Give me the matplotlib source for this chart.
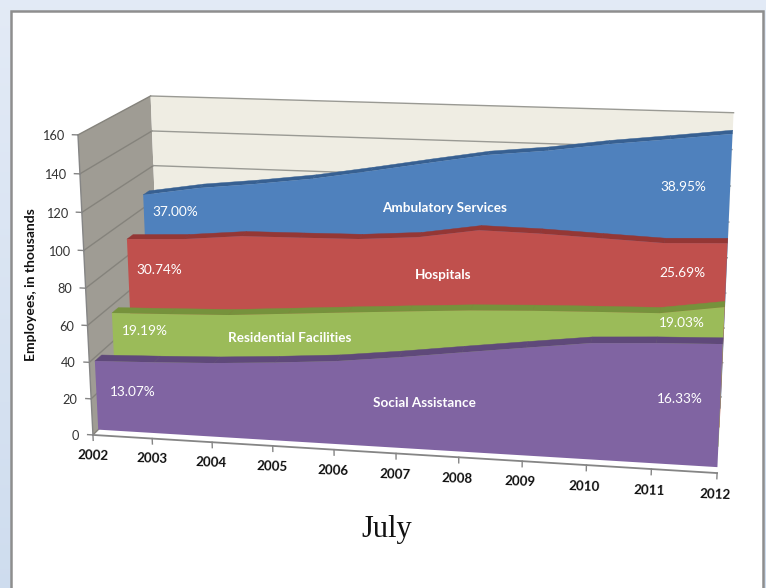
import numpy as np
import matplotlib
matplotlib.use("Agg")
import matplotlib.pyplot as plt
from mpl_toolkits.mplot3d import proj3d
from mpl_toolkits.mplot3d.art3d import Poly3DCollection

W, H = 766, 588

years = np.arange(2002, 2013)
social = [38.1, 39.2, 40.5, 42.6, 45.1, 48.9, 53.2, 57.4, 61.5, 63.2, 64.4]
residential = [55.8, 56.8, 57.9, 60.2, 62.5, 64.7, 66.8, 68.2, 69.2, 70.1, 74.9]
hospitals = [89.4, 90.8, 93.8, 94.3, 94.9, 97.3, 102.4, 101.9, 100.7, 99.5, 100.8]
ambulatory = [107.4, 112.5, 116.0, 120.1, 125.5, 131.2, 136.7, 140.1, 144.7, 148.4, 152.3]
yticks = np.arange(0, 161, 20)

# depth slot and colours of each area, back to front
layers = [
    (ambulatory, 0.83, "#4F81BD", "#376092"),
    (hospitals, 0.57, "#C0504D", "#943735"),
    (residential, 0.32, "#9BBB59", "#76923C"),
    (social, 0.07, "#8064A2", "#5F497A"),
]
thick = 0.09

plt.rcParams["font.family"] = ["Lato", "DejaVu Sans"]

fig = plt.figure(figsize=(W / 100, H / 100), dpi=100)


def fx(x):
    return x / W


def fy(y):
    return 1 - y / H


# pale blue page with the white panel on top of it
bg = fig.add_axes([0, 0, 1, 1], zorder=-1)
bg.set_xlim(0, W)
bg.set_ylim(H, 0)
bg.axis("off")
grad = np.linspace(0, 1, 256)[:, None]
page0 = np.array([0.89, 0.92, 0.965])
page1 = np.array([0.81, 0.865, 0.935])
bg.imshow((page0 + (page1 - page0) * grad[..., None]), extent=[0, W, H, 0], aspect="auto")
bg.add_patch(plt.Rectangle((10.5, 10.5), 752.5, H, fc="white", ec="#8E8E8E", lw=1.8))

ax = fig.add_axes([58.07 / W, -42.29 / H, 696.7 / W, 696.7 / H], projection="3d", computed_zorder=False)
ax.patch.set_visible(False)
ax.set_xlim(years[0], years[-1], view_margin=0)
ax.set_ylim(0, 1, view_margin=0)
ax.set_zlim(0, 160, view_margin=0)
ax.view_init(15.0823, -79.9579, 0.1019)
ax.set_proj_type("persp", focal_length=0.4926)
ax.set_box_aspect((1, 0.3639, 0.4940))
ax.set_axis_off()

x0, x1 = years[0], years[-1]
zmax = yticks[-1]


def label3d(x, y, z, s, **kw):
    # place a flat label at the projected position of a 3d point
    px, py, _ = proj3d.proj_transform(x, y, z, ax.get_proj())
    ax.text2D(px, py, s, transform=ax.transData, **kw)


# walls and floor
ax.add_collection3d(Poly3DCollection([[(x0, 0, 0), (x0, 1, 0), (x0, 1, zmax), (x0, 0, zmax)]],
                                     facecolor="#9F9C94", edgecolor="none", zorder=1))
ax.add_collection3d(Poly3DCollection([[(x0, 1, 0), (x1, 1, 0), (x1, 1, zmax), (x0, 1, zmax)]],
                                     facecolor="#EFEDE3", edgecolor="none", zorder=1))
ax.add_collection3d(Poly3DCollection([[(x0, 0, 0), (x1, 0, 0), (x1, 1, 0), (x0, 1, 0)]],
                                     facecolor="white", edgecolor="none", zorder=1))

# gridlines on both walls
for v in yticks:
    ax.plot([x0, x0], [0, 1], [v, v], color="#85837C", lw=1, zorder=2)
    ax.plot([x0, x1], [1, 1], [v, v], color="#9A9A94", lw=1, zorder=2)

# areas with the darker top strip
for vals, depth, face, top in layers:
    vals = np.array(vals)
    strip = []
    for i in range(len(years) - 1):
        strip.append([(years[i], depth, vals[i]), (years[i + 1], depth, vals[i + 1]),
                      (years[i + 1], depth + thick, vals[i + 1]), (years[i], depth + thick, vals[i])])
    ax.add_collection3d(Poly3DCollection(strip, facecolor=top, edgecolor=top, linewidth=0.3, zorder=3))
    front = [(y, depth, v) for y, v in zip(years, vals)] + [(x1, depth, 0), (x0, depth, 0)]
    ax.add_collection3d(Poly3DCollection([front], facecolor=face, edgecolor="none", zorder=3))

# axis lines and ticks
axis_col = "#858585"
ax.plot([x0, x0], [0, 0], [0, zmax], color=axis_col, lw=1, zorder=4)
ax.plot([x0, x1], [0, 0], [0, 0], color=axis_col, lw=1.3, zorder=4)
for v in yticks:
    ax.plot([x0 - 0.09, x0], [0, 0], [v, v], color=axis_col, lw=1, zorder=4)
    label3d(x0 - 0.23, 0, v - 1, str(v), ha="right", va="center", fontsize=9.2, color="#333333", zorder=5)
for y in years:
    ax.plot([y, y], [0, 0], [0, -3], color=axis_col, lw=1, zorder=4)
    label3d(y - 0.02, 0, -11.3, str(y), ha="center", va="center", fontsize=9.6, fontweight="bold",
            rotation=-2, color="#111111", zorder=5)

# labels written on the areas
pct_labels = [("37.00%", 175, 212), ("38.95%", 683, 187), ("30.74%", 159, 270), ("25.69%", 682, 273),
              ("19.19%", 145, 331), ("19.03%", 682, 323), ("13.07%", 133, 392), ("16.33%", 680, 399)]
name_labels = [("Ambulatory Services", 445, 208), ("Hospitals", 443, 275),
               ("Residential Facilities", 290, 338), ("Social Assistance", 424, 403)]
for txt, a, b in pct_labels:
    fig.text(fx(a), fy(b), txt, color="white", fontsize=9.8, ha="center", va="center")
for txt, a, b in name_labels:
    fig.text(fx(a), fy(b), txt, color="white", fontsize=9.7, fontweight="bold", ha="center", va="center")

fig.text(fx(31), fy(285), "Employees, in thousands", rotation=90, fontsize=10, fontweight="bold",
         color="#111111", ha="center", va="center")
fig.text(fx(387), fy(530), "July", fontsize=22, family=["Liberation Serif"], color="#111111",
         ha="center", va="center")

fig.savefig("out.png", dpi=100)
